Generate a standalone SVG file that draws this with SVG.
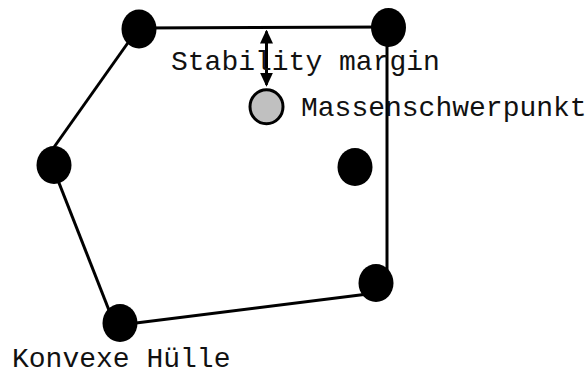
<svg xmlns="http://www.w3.org/2000/svg" width="588" height="374" viewBox="0 0 588 374">
<style>
.pt{fill:#000;stroke:none}
.edge{stroke:#000;stroke-width:3;fill:none}
.lbl{font-family:"Liberation Mono","Courier New",monospace;font-size:28px;fill:#111}
</style>
<defs>
<marker id="ah" viewBox="0 0 14 13" refX="12" refY="6.5" markerWidth="14" markerHeight="13" orient="auto-start-reverse" markerUnits="userSpaceOnUse">
<path d="M0,0 L14,6.5 L0,13 z" fill="#000"/>
</marker>
</defs>
<rect width="588" height="374" fill="#fff"/>
<g id="connectors">
<path class="edge" d="M139,28 L388,27"/>
<path class="edge" d="M387,28 L387,283"/>
<path class="edge" d="M120,325 L376,293"/>
<path class="edge" d="M114,323 L50,160"/>
<path class="edge" d="M52,150 L137,30"/>
<path class="edge" d="M266.5,31.5 L266.5,84.7" marker-start="url(#ah)" marker-end="url(#ah)"/>
</g>
<g id="node-top-left"><ellipse class="pt" cx="139" cy="29" rx="17.5" ry="19.5"/></g>
<g id="node-top-right"><ellipse class="pt" cx="388.5" cy="27.5" rx="17.5" ry="19.5"/></g>
<g id="node-left"><ellipse class="pt" cx="54" cy="165" rx="17.5" ry="19"/></g>
<g id="node-inner"><ellipse class="pt" cx="355" cy="167" rx="17.5" ry="19"/></g>
<g id="node-bottom-right"><ellipse class="pt" cx="376" cy="283" rx="17.5" ry="19"/></g>
<g id="node-bottom-left"><ellipse class="pt" cx="120" cy="323" rx="17.5" ry="19"/></g>
<g id="node-com"><ellipse cx="266.5" cy="106.7" rx="16.5" ry="17" fill="#c0c0c0" stroke="#000" stroke-width="3"/></g>
<g id="labels">
<text class="lbl" x="171" y="69.5">Stability margin</text>
<text class="lbl" x="301" y="116">Massenschwerpunkt</text>
<text class="lbl" x="12" y="367">Konvexe Hülle</text>
</g>
</svg>
